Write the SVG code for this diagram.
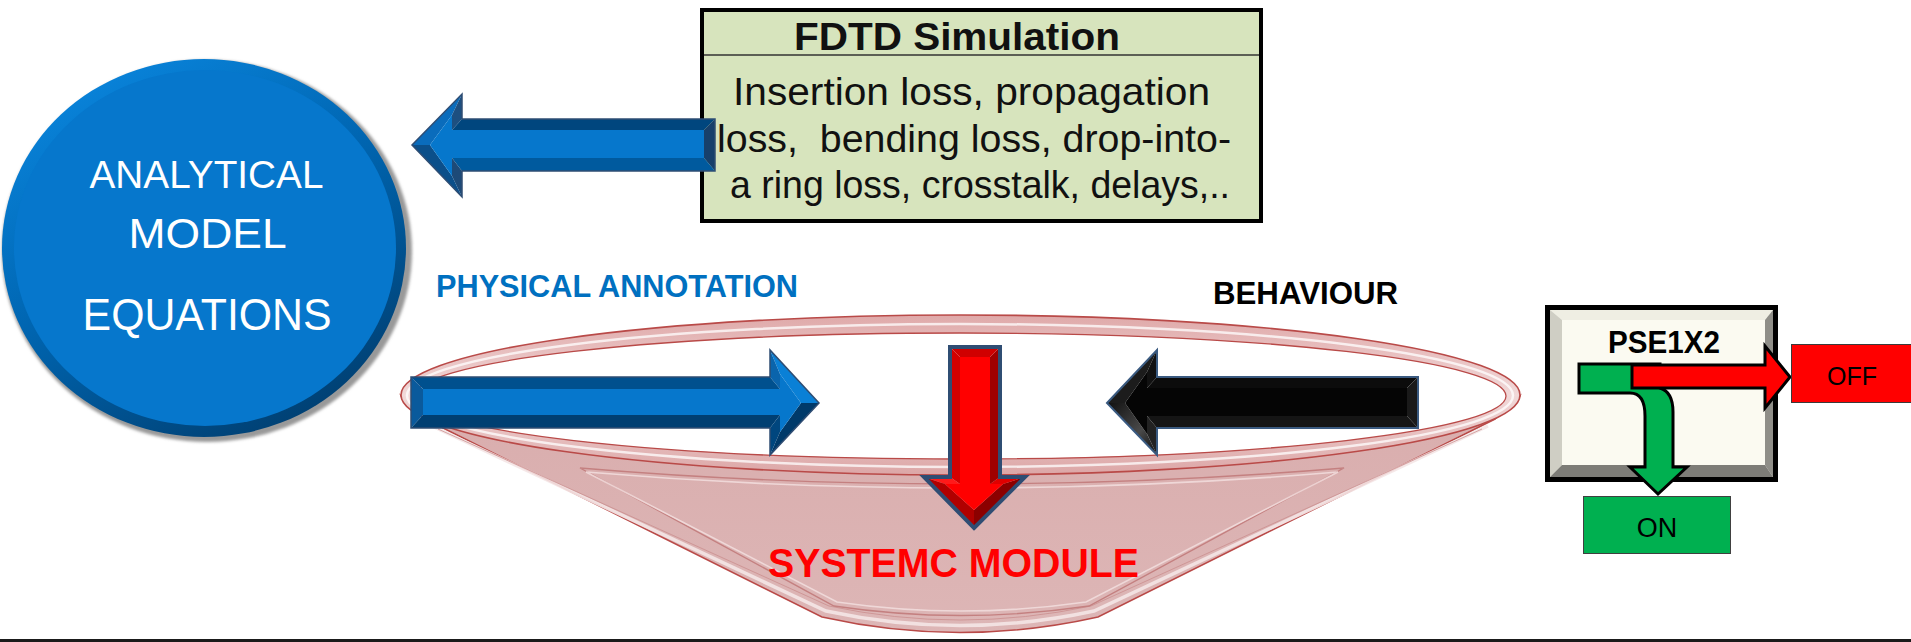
<svg xmlns="http://www.w3.org/2000/svg" width="1911" height="642" viewBox="0 0 1911 642">
  <defs>
    <linearGradient id="ringGrad" x1="0.2" y1="0" x2="0.8" y2="1">
      <stop offset="0" stop-color="#0a86de"/>
      <stop offset="0.45" stop-color="#0066b2"/>
      <stop offset="1" stop-color="#003c6c"/>
    </linearGradient>
    <linearGradient id="rimGrad" x1="0" y1="0" x2="0" y2="1">
      <stop offset="0" stop-color="#dfa9a9"/>
      <stop offset="0.5" stop-color="#f1d9d9"/>
      <stop offset="1" stop-color="#dca6a6"/>
    </linearGradient>
    <linearGradient id="coneGrad" x1="0" y1="0" x2="0" y2="1">
      <stop offset="0" stop-color="#d9adad"/>
      <stop offset="1" stop-color="#ddb6b6"/>
    </linearGradient>
    <linearGradient id="blackHi" x1="0" y1="0" x2="1" y2="1">
      <stop offset="0" stop-color="#101010"/>
      <stop offset="0.6" stop-color="#4a4a4a"/>
      <stop offset="1" stop-color="#0a0a0a"/>
    </linearGradient>
    <filter id="soft" x="-5%" y="-5%" width="110%" height="110%">
      <feGaussianBlur stdDeviation="1.5"/>
    </filter>
  </defs>
  <style>
    .sans { font-family: "Liberation Sans", Arial, sans-serif; }
    .bold { font-weight: bold; }
    .arrowEdge { fill: none; stroke: #2f4d73; stroke-width: 1.5; stroke-linejoin: miter; }
    .rimLine { stroke: #b94a48; stroke-width: 1.6; }
    .pseEdge { stroke: #000; stroke-width: 3; stroke-linejoin: miter; }
  </style>

  <rect width="1911" height="642" fill="#ffffff"/>

  <!-- analytical model disc -->
  <g id="analytical-model">
    <ellipse cx="207" cy="251" rx="205" ry="191" fill="#999999" filter="url(#soft)"/>
    <ellipse cx="204" cy="248" rx="202" ry="189" fill="url(#ringGrad)"/>
    <ellipse cx="205" cy="248" rx="191" ry="178" fill="#0677cc"/>
    <g class="sans" fill="#ffffff">
      <text x="89.5" y="188" font-size="39" textLength="234" lengthAdjust="spacingAndGlyphs">ANALYTICAL</text>
      <text x="128.6" y="248" font-size="42" textLength="158" lengthAdjust="spacingAndGlyphs">MODEL</text>
      <text x="82.6" y="330" font-size="44" textLength="249" lengthAdjust="spacingAndGlyphs">EQUATIONS</text>
    </g>
  </g>

  <!-- FDTD simulation box -->
  <g id="fdtd-simulation">
    <rect x="702" y="10" width="559" height="211" fill="#d7e4bd" stroke="#000" stroke-width="4"/>
    <line x1="704" y1="55" x2="1259" y2="55" stroke="#333" stroke-width="1.5"/>
    <g class="sans" fill="#111">
      <text class="bold" x="794" y="50" font-size="38" textLength="326" lengthAdjust="spacingAndGlyphs">FDTD Simulation</text>
      <text x="733" y="105" font-size="39" textLength="477" lengthAdjust="spacingAndGlyphs">Insertion loss, propagation</text>
      <text x="717" y="152" font-size="39" textLength="514" lengthAdjust="spacingAndGlyphs" xml:space="preserve">loss,  bending loss, drop-into-</text>
      <text x="730" y="198" font-size="39" textLength="500" lengthAdjust="spacingAndGlyphs">a ring loss, crosstalk, delays,..</text>
    </g>
  </g>

  <!-- SystemC module funnel -->
  <g id="systemc-module">
    <path d="M401,396 A560,80 0 0 0 1520,396 L1495,419 L1098,617 Q960,648 822,617 L425,419 Z" fill="url(#coneGrad)" class="rimLine"/>
    <path d="M432,426 L826,611 Q960,640 1094,611 L1488,426" fill="none" stroke="#f4e6e6" stroke-width="3.5" opacity="0.9"/>
    <path d="M438,429 L829,606 Q960,634 1091,606 L1482,429" fill="none" stroke="#c98c8c" stroke-width="1" opacity="0.75"/>
    <path d="M580,468 Q960,500 1344,468 L1089,606 Q960,625 834,606 Z" fill="none" stroke="#c48080" stroke-width="1.4"/>
    <path d="M586,472 Q960,504 1338,472 L1086,602 Q960,620 837,602 Z" fill="none" stroke="#f2dede" stroke-width="1.6" opacity="0.85"/>
    <ellipse cx="960.5" cy="395" rx="559.5" ry="80" fill="url(#rimGrad)" class="rimLine"/>
    <ellipse cx="960" cy="395.5" rx="553" ry="71.5" fill="none" stroke="#ffffff" stroke-width="2.5" opacity="0.75"/>
    <ellipse cx="960" cy="396" rx="546" ry="63" fill="#ffffff" stroke="#b94a48" stroke-width="1.3"/>
    <text class="sans bold" x="768" y="577" font-size="40.5" fill="#ff0000" textLength="371" lengthAdjust="spacingAndGlyphs">SYSTEMC MODULE</text>
  </g>

  <!-- annotation labels -->
  <g id="physical-annotation-label">
    <text class="sans bold" x="436" y="297" font-size="30.5" fill="#0070c0" textLength="362" lengthAdjust="spacingAndGlyphs">PHYSICAL ANNOTATION</text>
  </g>
  <g id="behaviour-label">
    <text class="sans bold" x="1213" y="304" font-size="31" fill="#000" textLength="185" lengthAdjust="spacingAndGlyphs">BEHAVIOUR</text>
  </g>

  <!-- block arrows -->
  <g id="connectors">
    <!-- FDTD results fed back into the analytical model -->
    <g id="arrow-fdtd-to-model">
      <polygon points="412,145 462,94 452,115 430,145" fill="#0a6cbc"/>
      <polygon points="462,94 462,119 452,130 452,115" fill="#1d4f80"/>
      <polygon points="462,119 715,119 704,130 452,130" fill="#00467e"/>
      <polygon points="715,119 715,171 704,158 704,130" fill="#17406b"/>
      <polygon points="715,171 462,171 452,158 704,158" fill="#005a9e"/>
      <polygon points="462,171 462,197 452,176 452,158" fill="#1d4a78"/>
      <polygon points="462,197 412,145 430,145 452,176" fill="#0b4f8a"/>
      <polygon points="430,145 452,115 452,130 704,130 704,158 452,158 452,176" fill="#0677cc"/>
      <polygon class="arrowEdge" points="412,145 462,94 462,119 715,119 715,171 462,171 462,197"/>
    </g>
    <!-- physical annotation into the module -->
    <g id="arrow-annotation">
      <polygon points="819,403 770,350 780,374 801,403" fill="#0a80d6"/>
      <polygon points="770,350 770,377 780,389 780,374" fill="#0a64ac"/>
      <polygon points="770,377 411,377 423,389 780,389" fill="#00508e"/>
      <polygon points="411,377 411,428 423,415 423,389" fill="#0a5a9c"/>
      <polygon points="411,428 770,428 780,415 423,415" fill="#003f72"/>
      <polygon points="770,428 770,455 780,432 780,415" fill="#00467e"/>
      <polygon points="770,455 819,403 801,403 780,432" fill="#003a6a"/>
      <polygon points="801,403 780,374 780,389 423,389 423,415 780,415 780,432" fill="#0677cc"/>
      <polygon class="arrowEdge" points="819,403 770,350 770,377 411,377 411,428 770,428 770,455"/>
    </g>
    <!-- behaviour into the module -->
    <g id="arrow-behaviour">
      <polygon points="1107,403 1157,350 1147,372 1125,403" fill="#1c1c1c"/>
      <polygon points="1157,350 1157,377 1147,388 1147,372" fill="#111111"/>
      <polygon points="1157,377 1418,377 1407,388 1147,388" fill="#0c0c0c"/>
      <polygon points="1418,377 1418,428 1407,416 1407,388" fill="#1a1a1a"/>
      <polygon points="1418,428 1157,428 1147,416 1407,416" fill="#151515"/>
      <polygon points="1157,428 1157,455 1147,434 1147,416" fill="#222222"/>
      <polygon points="1157,455 1107,403 1125,403 1147,434" fill="url(#blackHi)"/>
      <polygon points="1125,403 1147,372 1147,388 1407,388 1407,416 1147,416 1147,434" fill="#050505"/>
      <polygon points="1107,403 1157,350 1157,377 1418,377 1418,428 1157,428 1157,455" fill="none" stroke="#3a5a80" stroke-width="2"/>
    </g>
    <!-- module output -->
    <g id="arrow-module-down">
      <polygon points="974,528 1025,477 1003,484 974,510" fill="#8b0000"/>
      <polygon points="1025,477 1000,477 990,484 1003,484" fill="#e00000"/>
      <polygon points="1000,477 1000,347 990,357 990,484" fill="#a00000"/>
      <polygon points="1000,347 950,347 960,357 990,357" fill="#d00000"/>
      <polygon points="950,347 950,477 960,484 960,357" fill="#d40000"/>
      <polygon points="950,477 924,477 945,484 960,484" fill="#ff1a1a"/>
      <polygon points="924,477 974,528 974,510 945,484" fill="#b00000"/>
      <polygon points="974,510 1003,484 990,484 990,357 960,357 960,484 945,484" fill="#ff0000"/>
      <polygon points="974,528 1025,477 1000,477 1000,347 950,347 950,477 924,477" fill="none" stroke="#2f4d73" stroke-width="4" stroke-linejoin="miter"/>
    </g>
  </g>

  <!-- photonic switching element -->
  <g id="pse1x2">
    <rect x="1547.5" y="307.5" width="228" height="172" fill="#fbfaf1" stroke="#000" stroke-width="5"/>
    <polygon points="1550,310 1773,310 1765,320 1562,320" fill="#efeee3"/>
    <polygon points="1550,310 1562,320 1562,465 1550,477" fill="#cfcec4"/>
    <polygon points="1773,310 1773,477 1765,465 1765,320" fill="#8f8e88"/>
    <polygon points="1550,477 1773,477 1765,465 1562,465" fill="#7d7c77"/>
    <text class="sans bold" x="1608" y="353" font-size="32" fill="#000" textLength="112" lengthAdjust="spacingAndGlyphs">PSE1X2</text>
    <path class="pseEdge" d="M1579,364 L1660,364 L1660,388 Q1673,392 1673,412 L1673,467 L1687,467 L1658,494 L1630,467 L1645,467 L1645,416 Q1645,393 1630,393 L1579,393 Z" fill="#00b050"/>
    <polygon class="pseEdge" points="1632,365 1765,365 1765,346 1790,377 1765,408 1765,388 1632,388" fill="#ff0000"/>
  </g>
  <g id="off-port">
    <rect x="1791.5" y="344.5" width="125" height="58" fill="#ff0000" stroke="#3b3b3b" stroke-width="1"/>
    <text class="sans" x="1852" y="385" font-size="25" text-anchor="middle" fill="#000">OFF</text>
  </g>
  <g id="on-port">
    <rect x="1583.5" y="496.5" width="147" height="57" fill="#00b050" stroke="#404040" stroke-width="1"/>
    <text class="sans" x="1657" y="537" font-size="27" text-anchor="middle" fill="#000">ON</text>
  </g>

  <!-- base rule -->
  <rect x="0" y="639" width="1911" height="3" fill="#1a1a1a"/>
</svg>
